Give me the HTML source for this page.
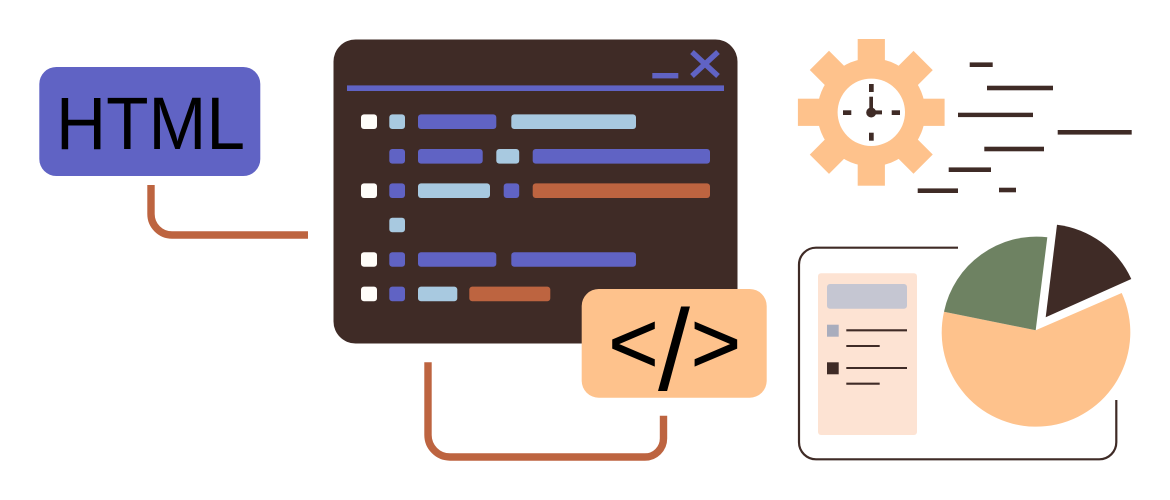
<!DOCTYPE html>
<html>
<head>
<meta charset="utf-8">
<style>
html,body{margin:0;padding:0;background:#fff;width:1170px;height:500px;overflow:hidden}
svg{display:block}
text{font-family:"Liberation Sans",sans-serif;fill:#000}
</style>
</head>
<body>
<svg width="1170" height="500" viewBox="0 0 1170 500" xmlns="http://www.w3.org/2000/svg">
<rect width="1170" height="500" fill="#fff"/>

<!-- HTML box -->
<rect x="39.3" y="67" width="221" height="109" rx="17" fill="#6063c4"/>
<text x="56" y="149" font-size="74" textLength="189" lengthAdjust="spacingAndGlyphs">HTML</text>
<path d="M151 185V214A21 21 0 0 0 172 235H308" fill="none" stroke="#bd6440" stroke-width="7.4"/>

<!-- Main window -->
<rect x="333.5" y="39.5" width="404" height="304" rx="22" fill="#3f2b26"/>
<rect x="347" y="85.4" width="377" height="5.6" fill="#6063c4"/>
<rect x="652.3" y="73" width="26" height="5.4" fill="#6063c4"/>
<path d="M692 52L718 76M718 52L692 76" stroke="#6063c4" stroke-width="5.4" fill="none"/>

<g fill="#fffdf9">
<rect x="361" y="114.4" width="16" height="14.6" rx="3"/>
<rect x="361" y="183.4" width="16" height="14.6" rx="3"/>
<rect x="361" y="252.2" width="16" height="14.6" rx="3"/>
<rect x="361" y="286.6" width="16" height="14.6" rx="3"/>
</g>
<g fill="#6063c4">
<rect x="389.3" y="149" width="15.7" height="14.6" rx="3"/>
<rect x="389.3" y="183.4" width="15.7" height="14.6" rx="3"/>
<rect x="389.3" y="252.2" width="15.7" height="14.6" rx="3"/>
<rect x="389.3" y="286.6" width="15.7" height="14.6" rx="3"/>
<rect x="418" y="114.4" width="78.3" height="14.6" rx="3"/>
<rect x="418" y="149" width="64.7" height="14.6" rx="3"/>
<rect x="532.7" y="149" width="177.3" height="14.6" rx="3"/>
<rect x="503.7" y="183.4" width="15.5" height="14.6" rx="3"/>
<rect x="418" y="252.2" width="78.3" height="14.6" rx="3"/>
<rect x="511.3" y="252.2" width="124.7" height="14.6" rx="3"/>
</g>
<g fill="#a8c9e0">
<rect x="389.3" y="114.4" width="15.7" height="14.6" rx="3"/>
<rect x="511.3" y="114.4" width="124.7" height="14.6" rx="3"/>
<rect x="496.3" y="149" width="22.9" height="14.6" rx="3"/>
<rect x="418" y="183.4" width="72" height="14.6" rx="3"/>
<rect x="389.3" y="217.7" width="15.7" height="14.6" rx="3"/>
<rect x="418" y="286.6" width="39.3" height="14.6" rx="3"/>
</g>
<g fill="#bd6440">
<rect x="532.7" y="183.4" width="177.3" height="14.6" rx="3"/>
<rect x="469.3" y="286.6" width="81" height="14.6" rx="3"/>
</g>

<!-- Code box -->
<rect x="581.7" y="289" width="185" height="108.7" rx="17" fill="#fec28c"/>
<path d="M428 362.3V435A22 22 0 0 0 450 457H645A18.5 18.5 0 0 0 663.5 438.5V415.7" fill="none" stroke="#bd6440" stroke-width="7.4"/>
<text x="608.4" y="372.6" font-size="86" stroke="#000" stroke-width="0.8">&lt;</text>
<text x="674" y="390" font-size="115" text-anchor="middle">/</text>
<text x="690.7" y="372.6" font-size="86" stroke="#000" stroke-width="0.8">&gt;</text>

<!-- Gear -->
<g fill="#fec28c">
<circle cx="871.3" cy="112.3" r="54"/>
<rect x="857.7" y="39" width="27.2" height="146.7"/>
<rect x="857.7" y="39" width="27.2" height="146.7" transform="rotate(45 871.3 112.3)"/>
<rect x="857.7" y="39" width="27.2" height="146.7" transform="rotate(90 871.3 112.3)"/>
<rect x="857.7" y="39" width="27.2" height="146.7" transform="rotate(135 871.3 112.3)"/>
</g>
<circle cx="871.3" cy="112.3" r="33.7" fill="#fff"/>
<g fill="#3f2b26">
<rect x="869" y="84" width="4.7" height="8"/>
<rect x="869" y="132.7" width="4.7" height="8"/>
<rect x="843" y="110.3" width="8.3" height="4.7"/>
<rect x="891.7" y="110.3" width="8.3" height="4.7"/>
<rect x="869.3" y="96.7" width="3.7" height="16"/>
<rect x="871" y="110.4" width="11" height="4"/>
<circle cx="871.2" cy="112.5" r="5"/>
</g>

<!-- Speed lines -->
<g fill="#3f2b26">
<rect x="969.7" y="62.4" width="23" height="4.6"/>
<rect x="987" y="85.7" width="66" height="4.6"/>
<rect x="958" y="112.7" width="75" height="4.4"/>
<rect x="1057.7" y="130" width="74" height="4.6"/>
<rect x="984.3" y="146.7" width="59.7" height="4.6"/>
<rect x="948.7" y="167.4" width="42.3" height="4.6"/>
<rect x="917.7" y="188.4" width="40.3" height="4.6"/>
<rect x="999" y="187.7" width="17" height="4.6"/>
</g>

<!-- Chart frame -->
<path d="M958 247.7H816A17 17 0 0 0 799 264.7V442.3A17 17 0 0 0 816 459.3H1099.3A17 17 0 0 0 1116.3 442.3V400" fill="none" stroke="#3f2b26" stroke-width="2.2"/>
<rect x="818" y="273.3" width="99" height="161.7" rx="3" fill="#fde3d3"/>
<rect x="827" y="284" width="80" height="24.7" rx="3" fill="#c5c6d2"/>
<rect x="827" y="324.7" width="11.7" height="12" fill="#a9adbd"/>
<rect x="827" y="362.3" width="11.7" height="12" fill="#3f2b26"/>
<g stroke="#3f2b26" stroke-width="2.1" fill="none">
<path d="M846.3 330.3H907M846.3 346H879.7M846.3 368H907M846.3 383.7H879.7"/>
</g>

<!-- Pie -->
<path d="M1035.7 330.3L944 311.7A94.3 94.3 0 1 0 1121.7 293Z" fill="#fec28c"/>
<path d="M1035.7 330.3L944 311.7A94.3 94.3 0 0 1 1047.3 237.3Z" fill="#6e8262"/>
<path d="M1045.7 317.3L1057 224.7A94 94 0 0 1 1131.3 279Z" fill="#3f2b26"/>
</svg>
</body>
</html>
